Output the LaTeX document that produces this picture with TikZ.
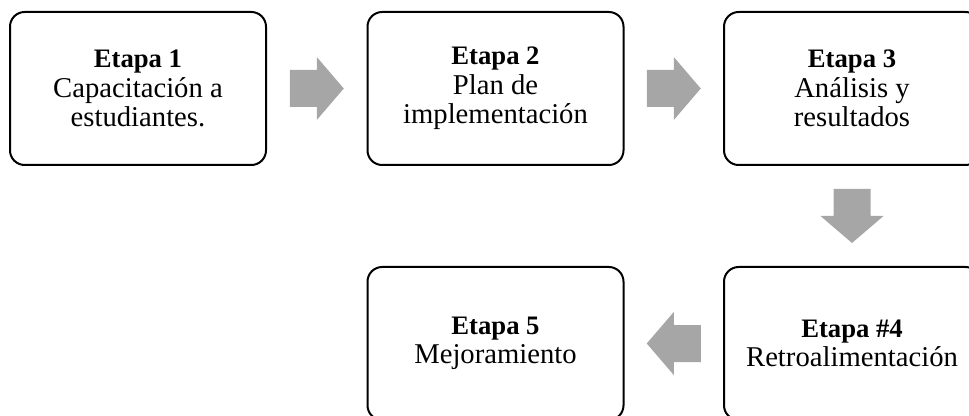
\documentclass[tikz,border=0pt]{standalone}
\usepackage{fontspec}
\setmainfont{Liberation Serif}
\usetikzlibrary{calc}
\definecolor{flechagris}{RGB}{166,166,166}
\tikzset{etapa/.style={draw, line width=1.5pt, rounded corners=11pt,
		minimum width=192pt, minimum height=114.75pt, inner sep=0pt,
		align=center, font=\fontsize{21.5}{22}\selectfont}}
\newcommand{\titulo}[1]{{\fontsize{20}{22}\selectfont\bfseries #1}}
% flecha gruesa: centro, angulo
\newcommand{\flecha}[2]{\fill[flechagris, shift={(#1)}, rotate=#2]
	(-27,-18.5) -- (0,-18.5) -- (0,-31.5) -- (27,0) -- (0,31.5) -- (0,18.5)
	-- (-27,18.5) -- cycle;}
\begin{document}
\begin{tikzpicture}[x=0.75pt, y=-0.75pt, line join=round]
	\useasboundingbox (0,0) rectangle (969,416);
	\path
	(138,88.5) coordinate (P1)
	(495.5,88.5) coordinate (P2)
	(852,88.5) coordinate (P3)
	(852,343.5) coordinate (P4)
	(495.5,343.5) coordinate (P5)
	;
	\node[etapa] (e1) at (P1) {\titulo{Etapa 1}\\Capacitación a\\estudiantes.};
	\node[etapa] (e2) at (P2) {\titulo{Etapa 2}\\Plan de\\implementación};
	\node[etapa] (e3) at (P3) {\titulo{Etapa 3}\\Análisis y\\resultados};
	\node[etapa] (e4) at (P4) {\titulo{Etapa \#4}\\Retroalimentación};
	\node[etapa] (e5) at (P5) {\titulo{Etapa 5}\\Mejoramiento};
	% flechas entre etapas
	\coordinate (f12) at ($(e1.east)!0.5!(e2.west)$);
	\coordinate (f23) at ($(e2.east)!0.5!(e3.west)$);
	\coordinate (f34) at ($(e3.south)!0.5!(e4.north)$);
	\coordinate (f45) at ($(e4.west)!0.5!(e5.east)$);
	\flecha{f12}{0}
	\flecha{f23}{0}
	\flecha{f34}{-90}
	\flecha{f45}{180}
\end{tikzpicture}
\end{document}
